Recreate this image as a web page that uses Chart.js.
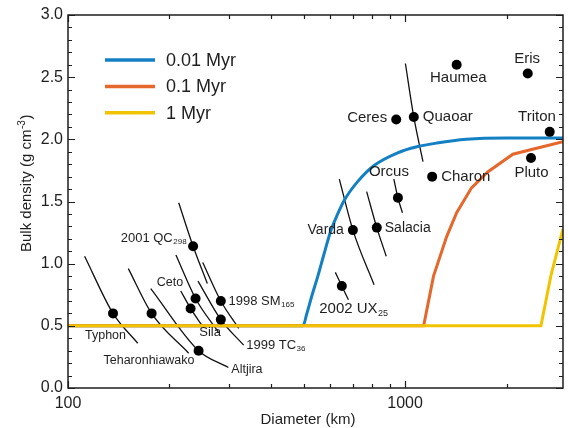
<!DOCTYPE html>
<html>
<head>
<meta charset="utf-8">
<script src="https://cdn.jsdelivr.net/npm/chart.js@4.4.1/dist/chart.umd.min.js"></script>
<style>
  html, body { margin: 0; padding: 0; background: #fff; }
  canvas { display: block; }
</style>
</head>
<body>
<canvas id="densityChart" width="568" height="428"></canvas>
<script>
// ---- data ----
const objectNames = [
  "Typhon", "Teharonhiawako", "2001 QC298", "Ceto", "Sila", "1998 SM165", "1999 TC36", "Altjira",
  "2002 UX25", "Varda", "Salacia", "Orcus", "Ceres", "Quaoar", "Charon", "Haumea", "Eris", "Pluto", "Triton"
];
const objectDiameters = [136, 177, 235, 239, 231, 284, 284, 244, 649, 700, 824, 952, 941, 1061, 1203, 1422, 2311, 2363, 2685];
const objectDensities = [0.60, 0.60, 1.14, 0.72, 0.64, 0.70, 0.55, 0.30, 0.82, 1.27, 1.29, 1.53, 2.16, 2.18, 1.70, 2.60, 2.53, 1.85, 2.06];

// uncertainty arcs: [start, object, end]
const arcDiameters = [
  [112, 136, 161], [151, 177, 228], [213, 235, 259], [209, 239, 279], [216, 231, 250],
  [251, 284, 321], [243, 284, 332], [176, 244, 299], [621, 649, 679], [638, 700, 809],
  [769, 824, 879], [926, 952, 982], [1002, 1061, 1130]
];
const arcDensities = [
  [1.06, 0.60, 0.36], [0.96, 0.60, 0.28], [1.49, 1.14, 0.84], [1.07, 0.72, 0.45], [0.78, 0.64, 0.50],
  [1.01, 0.70, 0.48], [0.86, 0.55, 0.345], [0.80, 0.30, 0.165], [0.93, 0.82, 0.71], [1.68, 1.27, 0.83],
  [1.58, 1.29, 1.06], [1.68, 1.53, 1.41], [2.61, 2.18, 1.82]
];

const modelLabels = ["0.01 Myr", "0.1 Myr", "1 Myr"];
const model001Diameters = [100, 498, 510, 530, 551, 575, 603, 631, 660, 723, 809, 947, 1084, 1242, 1521, 2000, 2940];
const model001Densities = [0.5, 0.5, 0.59, 0.75, 0.90, 1.08, 1.27, 1.40, 1.51, 1.66, 1.79, 1.89, 1.94, 1.97, 2.0, 2.01, 2.01];
const model01Diameters = [100, 1135, 1214, 1329, 1422, 1574, 1762, 2088, 2388, 2940];
const model01Densities = [0.5, 0.5, 0.90, 1.22, 1.41, 1.61, 1.74, 1.88, 1.92, 1.98];
const model1Diameters = [100, 2529, 2705, 2940];
const model1Densities = [0.5, 0.5, 0.90, 1.28];

const xTickLabels = [100, 1000];
const xMinorTicks = [200, 300, 400, 500, 600, 700, 800, 900, 2000];
const yTickLabels = [0, 0.5, 1.0, 1.5, 2.0, 2.5, 3.0];

// ---- look ----
const FONT = "'Liberation Sans', Arial, sans-serif";
const INK = "#1e1e1e";
const modelColors = ["#1480c4", "#e4672c", "#f2c400"];
const modelSmooth = ["monotone", "default", "default"];
const modelOrder = [3, 2, 1]; // yellow ends up on top of the shared 0.5 floor

// text placement next to each point (pixel offset from the dot)
const labelLayout = {
  "Typhon":         { dx: -7.5, dy: 22,   align: "center", size: 12.5 },
  "Teharonhiawako": { dx: -2.6, dy: 47,   align: "center", size: 12.5 },
  "2001 QC298":     { dx: -6.5, dy: -8,   align: "right",  size: 13, sub: 3 },
  "Ceto":           { dx: -12.4, dy: -15.7, align: "right", size: 12.5 },
  "Sila":           { dx: 19.5, dy: 24.3, align: "center", size: 13 },
  "1998 SM165":     { dx: 7.7,  dy: 0,    align: "left",   size: 13, sub: 3 },
  "1999 TC36":      { dx: 25.4, dy: 25.7, align: "left",   size: 13, sub: 2 },
  "Altjira":        { dx: 32.7, dy: 19.3, align: "left",   size: 12.5 },
  "2002 UX25":      { dx: -22.6, dy: 23,  align: "left",   size: 15, sub: 2 },
  "Varda":          { dx: -9,   dy: 0,    align: "right",  size: 14 },
  "Salacia":        { dx: 8,    dy: 0.6,  align: "left",   size: 14 },
  "Orcus":          { dx: -9,   dy: -26,  align: "center", size: 15 },
  "Ceres":          { dx: -9,   dy: -1.7, align: "right",  size: 15 },
  "Quaoar":         { dx: 9,    dy: 0.4,  align: "left",   size: 15 },
  "Charon":         { dx: 9,    dy: 0,    align: "left",   size: 15 },
  "Haumea":         { dx: 1.7,  dy: 13.3, align: "center", size: 15 },
  "Eris":           { dx: -0.7, dy: -15,  align: "center", size: 15 },
  "Pluto":          { dx: 0.5,  dy: 14.6, align: "center", size: 15 },
  "Triton":         { dx: -12.7, dy: -14.6, align: "center", size: 15 }
};

function toXY(xs, ys) {
  return xs.map((x, i) => ({ x: x, y: ys[i] }));
}

const datasets = [];

datasets.push({
  label: "objects",
  order: 0,
  data: toXY(objectDiameters, objectDensities),
  showLine: false,
  pointRadius: 5,
  pointBackgroundColor: "#000",
  pointBorderWidth: 0
});

const models = [
  [model001Diameters, model001Densities],
  [model01Diameters, model01Densities],
  [model1Diameters, model1Densities]
];
models.forEach((m, i) => {
  datasets.push({
    label: modelLabels[i],
    isModel: true,
    order: modelOrder[i],
    data: toXY(m[0], m[1]),
    showLine: true,
    borderColor: modelColors[i],
    borderWidth: 3,
    tension: 0,
    cubicInterpolationMode: modelSmooth[i],
    pointRadius: 0
  });
});

arcDiameters.forEach((d, i) => {
  datasets.push({
    label: "arc" + i,
    order: 5,
    data: toXY(d, arcDensities[i]),
    showLine: true,
    borderColor: "#111",
    borderWidth: 1.3,
    cubicInterpolationMode: "monotone",
    pointRadius: 0
  });
});

function drawLabel(ctx, text, L, x, y) {
  const subLen = L.sub || 0;
  const main = subLen ? text.slice(0, -subLen) : text;
  const sub = subLen ? text.slice(-subLen) : "";
  const mainFont = L.size + "px " + FONT;
  const subFont = Math.round(L.size * 0.62) + "px " + FONT;
  ctx.font = mainFont;
  const wMain = ctx.measureText(main).width;
  ctx.font = subFont;
  const wSub = sub ? ctx.measureText(sub).width + 0.5 : 0;
  const total = wMain + wSub;
  let x0 = x;
  if (L.align === "center") x0 = x - total / 2;
  if (L.align === "right") x0 = x - total;
  ctx.textAlign = "left";
  ctx.textBaseline = "middle";
  ctx.fillStyle = INK;
  ctx.font = mainFont;
  ctx.fillText(main, x0, y);
  if (sub) {
    ctx.font = subFont;
    ctx.textBaseline = "alphabetic";
    ctx.fillText(sub, x0 + wMain + 0.5, y + L.size * 0.36 + 1.5);
  }
}

const framePlugin = {
  id: "frame",
  afterDatasetsDraw(chart) {
    const ctx = chart.ctx;
    const pts = chart.getDatasetMeta(0).data;
    ctx.save();
    objectNames.forEach((name, i) => {
      const L = labelLayout[name];
      drawLabel(ctx, name, L, pts[i].x + L.dx, pts[i].y + L.dy);
    });
    ctx.restore();
  },
  afterDraw(chart) {
    const ctx = chart.ctx;
    const a = chart.chartArea;
    const xs = chart.scales.x;
    const ys = chart.scales.y;
    ctx.save();

    // frame
    ctx.strokeStyle = INK;
    ctx.lineWidth = 1.5;
    ctx.strokeRect(a.left, a.top, a.right - a.left, a.bottom - a.top);

    // inward ticks on all four sides
    ctx.lineWidth = 1.2;
    ctx.beginPath();
    const xTick = (v, len) => {
      const px = Math.round(xs.getPixelForValue(v)) + 0.5;
      ctx.moveTo(px, a.bottom); ctx.lineTo(px, a.bottom - len);
      ctx.moveTo(px, a.top); ctx.lineTo(px, a.top + len);
    };
    const yTick = (v, len) => {
      const py = Math.round(ys.getPixelForValue(v)) + 0.5;
      ctx.moveTo(a.left, py); ctx.lineTo(a.left + len, py);
      ctx.moveTo(a.right, py); ctx.lineTo(a.right - len, py);
    };
    xTickLabels.forEach(v => xTick(v, 7));
    xMinorTicks.forEach(v => xTick(v, 4));
    yTickLabels.forEach(v => yTick(v, 7));
    for (let k = 1; k < 30; k++) {
      if (k % 5 !== 0) yTick(k / 10, 4);
    }
    ctx.stroke();

    // legend inside the plot
    const models = chart.data.datasets.filter(d => d.isModel);
    models.forEach((d, i) => {
      const ly = 60 + i * 26.4;
      ctx.strokeStyle = d.borderColor;
      ctx.lineWidth = 3.5;
      ctx.beginPath();
      ctx.moveTo(105, ly);
      ctx.lineTo(155, ly);
      ctx.stroke();
      ctx.fillStyle = INK;
      ctx.font = "18px " + FONT;
      ctx.textAlign = "left";
      ctx.textBaseline = "middle";
      ctx.fillText(d.label, 166, ly + 1);
    });

    // axis titles
    ctx.fillStyle = INK;
    ctx.font = "15px " + FONT;
    ctx.textAlign = "center";
    ctx.textBaseline = "middle";
    ctx.fillText("Diameter (km)", 308, 420);

    ctx.translate(31, 252);
    ctx.rotate(-Math.PI / 2);
    ctx.textAlign = "left";
    ctx.textBaseline = "alphabetic";
    ctx.font = "15px " + FONT;
    const t1 = "Bulk density (g cm";
    ctx.fillText(t1, 0, 0);
    let w = ctx.measureText(t1).width;
    ctx.font = "10px " + FONT;
    ctx.fillText("-3", w + 0.5, -6);
    w += ctx.measureText("-3").width + 1;
    ctx.font = "15px " + FONT;
    ctx.fillText(")", w, 0);

    ctx.restore();
  }
};

Chart.defaults.font.family = FONT;
Chart.defaults.color = INK;

new Chart(document.getElementById("densityChart"), {
  type: "scatter",
  data: { datasets: datasets },
  options: {
    responsive: false,
    animation: false,
    devicePixelRatio: 1,
    layout: { padding: { top: 15, right: 1, left: 0, bottom: 0 } },
    plugins: {
      legend: { display: false },
      tooltip: { enabled: false }
    },
    scales: {
      x: {
        type: "logarithmic",
        min: 100,
        max: 2940,
        grid: { display: false, drawTicks: false },
        border: { display: false },
        afterBuildTicks: (s) => { s.ticks = xTickLabels.map(v => ({ value: v })); },
        afterFit: (s) => { s.height = 40; },
        ticks: {
          callback: (v) => String(v),
          font: { size: 16 },
          color: INK,
          padding: 6,
          maxRotation: 0,
          autoSkip: false
        }
      },
      y: {
        min: 0,
        max: 3,
        grid: { display: false, drawTicks: false },
        border: { display: false },
        afterBuildTicks: (s) => { s.ticks = yTickLabels.map(v => ({ value: v })); },
        afterFit: (s) => { s.width = 68; },
        ticks: {
          callback: (v) => Number(v).toFixed(1),
          font: { size: 16 },
          color: INK,
          padding: 5
        }
      }
    }
  },
  plugins: [framePlugin]
});
</script>
</body>
</html>
